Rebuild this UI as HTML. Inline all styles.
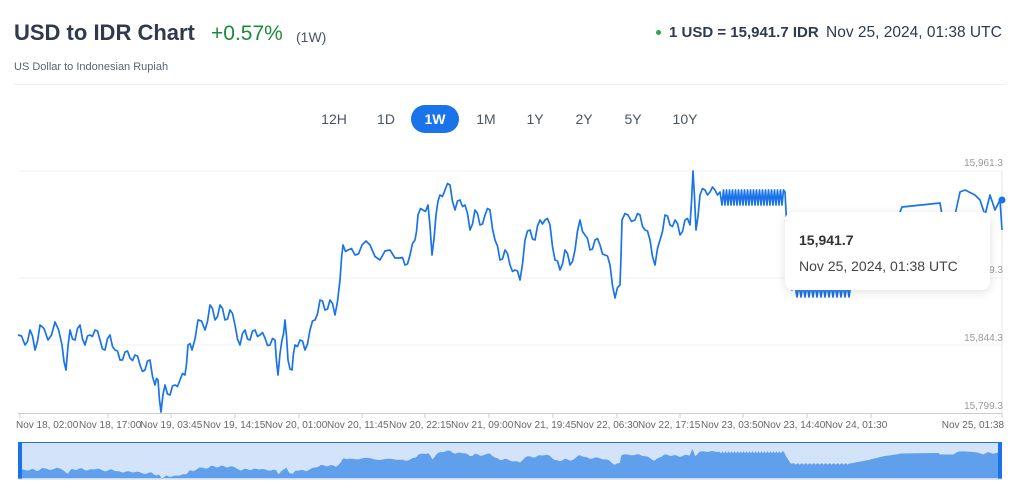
<!DOCTYPE html>
<html><head><meta charset="utf-8"><style>
body{margin:0;width:1024px;height:500px;background:#fff;font-family:"Liberation Sans",sans-serif;position:relative;overflow:hidden}
.a{position:absolute;white-space:nowrap}
.btn{position:absolute;top:105px;height:28px;line-height:28px;font-size:14px;color:#4a5462;text-align:center;width:46px}
</style></head><body>
<div class="a" style="left:14px;top:20px;font-size:22px;font-weight:bold;color:#2e3a4e">USD to IDR Chart</div>
<div class="a" style="left:211px;top:22px;font-size:21px;color:#1c8a3c">+0.57%</div>
<div class="a" style="left:296px;top:29px;font-size:14px;color:#4a5462">(1W)</div>
<div class="a" style="left:14px;top:61px;font-size:11px;color:#5a6472">US Dollar to Indonesian Rupiah</div>
<div class="a" style="left:656px;top:30px;width:5px;height:5px;border-radius:50%;background:#2aa84a"></div>
<div class="a" style="left:669px;top:24px;font-size:15px;font-weight:bold;color:#2e3a4e">1 USD = 15,941.7 IDR</div>
<div class="a" style="left:826px;top:24px;font-size:15.5px;color:#2e3a4e">Nov 25, 2024, 01:38 UTC</div>
<div class="a" style="left:14px;top:84px;width:992px;height:1px;background:#eef0f4"></div>
<div class="btn" style="left:311px">12H</div>
<div class="btn" style="left:363px">1D</div>
<div class="btn" style="left:411px;width:48px;background:#1a73e8;color:#fff;border-radius:14px;font-weight:bold">1W</div>
<div class="btn" style="left:463px">1M</div>
<div class="btn" style="left:512px">1Y</div>
<div class="btn" style="left:561px">2Y</div>
<div class="btn" style="left:610px">5Y</div>
<div class="btn" style="left:662px">10Y</div>
<svg id="s" width="1024" height="500" style="position:absolute;left:0;top:0" font-family="Liberation Sans, sans-serif"></svg>
<div class="a" style="left:785px;top:212px;width:205px;height:78px;background:#fff;border-radius:8px;box-shadow:0 2px 10px rgba(0,0,0,.12)">
<div class="a" style="left:14px;top:20px;font-size:14px;font-weight:bold;color:#333">15,941.7</div>
<div class="a" style="left:14px;top:46px;font-size:14px;color:#444">Nov 25, 2024, 01:38 UTC</div></div>
<script>
var P=[18,335,25,345,30,330,35,350,40,325,48,340,55,322,62,345,66,370,70,330,75,340,80,325,85,345,90,335,95,330,100,340,105,350,110,335,115,350,120,360,125,352,130,358,135,355,140,365,145,370,150,360,155,385,158,380,161,412,165,385,170,395,175,385,180,380,185,375,188,345,192,350,198,320,205,330,210,305,215,320,220,305,225,320,230,310,235,325,240,345,245,330,250,340,255,330,260,335,265,338,270,345,275,340,278,375,282,340,285,320,288,360,292,370,295,345,300,340,305,350,310,330,315,320,320,300,325,310,330,300,335,315,340,280,343,245,348,250,355,255,362,245,370,245,380,260,390,250,400,258,405,265,410,255,415,240,418,215,423,210,428,205,432,255,436,215,440,195,445,190,450,185,455,210,460,200,465,205,470,230,475,210,480,225,485,215,490,210,495,240,500,260,505,250,510,265,515,270,520,280,525,240,530,230,535,240,540,220,545,220,550,225,555,260,560,270,565,250,570,265,575,250,580,220,585,235,590,250,595,240,600,245,605,255,610,265,615,298,620,285,622,220,628,215,635,220,640,215,645,230,650,240,655,265,660,240,665,215,670,225,675,220,680,235,685,220,690,225,693,171,696,230,700,195,705,190,710,192,715,190,720,192];
// add jitter for jaggedness
var Q=[];for(var i=0;i<P.length-2;i+=2){Q.push(P[i],P[i+1]);var mx=(P[i]+P[i+2])/2,my=(P[i+1]+P[i+3])/2+((i/2)%2?4:-4);Q.push(mx,my);}Q.push(P[P.length-2],P[P.length-1]);P=Q;
for(var x=722;x<784;x+=3){P.push(x,205,x+1.5,190);}
P.push(785,192,787,230,792,290);
for(var x=795;x<850;x+=4){P.push(x,285,x+2,297);}
P.push(850,290,870,260,885,230,900,212,902,207,940,203,942,215,955,215,960,192,965,190,975,195,980,200,985,215,990,195,995,210,1000,200,1002,230);
var s='';
s+='<g stroke="#eef0f4"><line x1="18" x2="1002" y1="171" y2="171"/><line x1="18" x2="1002" y1="278" y2="278"/><line x1="18" x2="1002" y1="345" y2="345"/></g>';
s+='<line x1="1002" x2="1002" y1="171" y2="413" stroke="#e6e6e6"/>';
s+='<line x1="18" x2="1002" y1="413.5" y2="413.5" stroke="#ccc"/>';
var ticks=[20,108,171,235,299,362,425,489,553,617,680,743,807,871,1002];
ticks.forEach(function(t){s+='<line x1="'+t+'" x2="'+t+'" y1="413" y2="418" stroke="#ccc"/>';});
var labs=["Nov 18, 02:00","Nov 18, 17:00","Nov 19, 03:45","Nov 19, 14:15","Nov 20, 01:00","Nov 20, 11:45","Nov 20, 22:15","Nov 21, 09:00","Nov 21, 19:45","Nov 22, 06:30","Nov 22, 17:15","Nov 23, 03:50","Nov 23, 14:40","Nov 24, 01:30"];
var lx=[16,79,140,203,265,327,389,451,514,576,638,701,763,825];
labs.forEach(function(l,i){s+='<text x="'+lx[i]+'" y="428" font-size="10" fill="#666">'+l+'</text>';});
s+='<text x="1004" y="428" font-size="10" fill="#666" text-anchor="end">Nov 25, 01:38</text>';
[["15,961.3",166],["15,889.3",273],["15,844.3",341],["15,799.3",409]].forEach(function(a){s+='<text x="1003" y="'+a[1]+'" font-size="10" fill="#999" text-anchor="end">'+a[0]+'</text>';});
var pts=[];for(var i=0;i<P.length;i+=2)pts.push(P[i]+','+P[i+1]);
s+='<polyline points="'+pts.join(' ')+'" fill="none" stroke="#1a73e8" stroke-width="1.7" stroke-linejoin="round"/>';
s+='<circle cx="1002" cy="200" r="3.5" fill="#1a73e8"/>';
s+='<rect x="18" y="442" width="984" height="37" fill="#d2e3fa"/>';
var np=['20,478'];for(var i=0;i<P.length;i+=2){var x=20+(P[i]-18)*(980/984);var y=449+(P[i+1]-171)*(30/242);np.push(x.toFixed(1)+','+y.toFixed(1));}np.push('1000,478');
s+='<polygon points="'+np.join(' ')+'" fill="#5f9fec"/>';
s+='<line x1="18" x2="1002" y1="442.5" y2="442.5" stroke="#1a73e8"/>';
s+='<rect x="18" y="442" width="4" height="37" fill="#1a73e8"/><rect x="998" y="442" width="4" height="37" fill="#1a73e8"/>';
s+='<line x1="18" x2="1002" y1="479" y2="479" stroke="#b8d0f0"/>';
document.getElementById('s').innerHTML=s;
</script>
</body></html>
